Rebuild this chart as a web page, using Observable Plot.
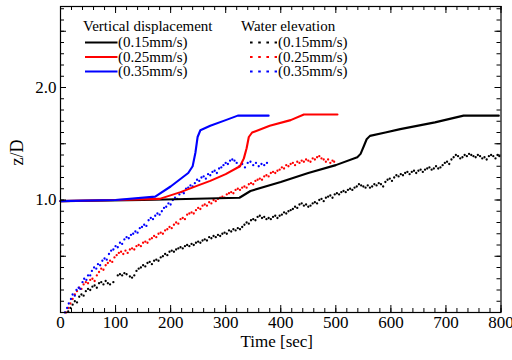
<!DOCTYPE html>
<html>
<head>
<meta charset="utf-8">
<script src="https://cdn.jsdelivr.net/npm/d3@7"></script>
<script src="https://cdn.jsdelivr.net/npm/@observablehq/plot@0.6"></script>
<style>
  html, body { margin: 0; padding: 0; background: white; overflow: hidden; }
  #wrap { position: relative; width: 512px; height: 360px; font-family: "Liberation Serif", "Times New Roman", serif; }
  #wrap svg, #wrap svg text { font-family: "Liberation Serif", "Times New Roman", serif !important; }
  #legend { position: absolute; left: 0; top: 0; pointer-events: none; }
</style>
</head>
<body>
<div id="wrap"></div>
<script>
// ---- Data ----
const xTicks = [0, 100, 200, 300, 400, 500, 600, 700, 800];
const yTickLabels = [1.0, 2.0];
const seriesNames = ["(0.15mm/s)", "(0.25mm/s)", "(0.35mm/s)"];
const colors = ["#000000", "#ff0000", "#0000ff"];

// Vertical displacement (solid lines): [time s, z/D]
const disp015 = [[0,0.99],[150,1.0],[325,1.02],[345,1.08],[400,1.16],[450,1.24],[500,1.31],[539,1.38],[545,1.41],[551,1.48],[556,1.54],[562,1.57],[590,1.60],[617,1.63],[680,1.69],[732,1.75],[796,1.75]];
const disp025 = [[0,0.99],[100,1.0],[180,1.01],[218,1.07],[250,1.13],[272,1.17],[300,1.23],[326,1.30],[333,1.37],[338,1.46],[342,1.56],[348,1.60],[380,1.66],[418,1.71],[442,1.76],[503,1.76]];
const disp035 = [[0,0.99],[100,1.0],[172,1.03],[200,1.12],[232,1.24],[240,1.30],[245,1.42],[249,1.56],[254,1.62],[272,1.66],[300,1.71],[322,1.75],[378,1.75]];

// Water elevation (dotted): [time s, z/D]
const water015 = [[14,0.01],[18,0.04],[22,0.07],[26,0.10],[30,0.09],[34,0.14],[38,0.16],[42,0.15],[46,0.19],[50,0.21],[54,0.20],[58,0.23],[62,0.24],[66,0.22],[70,0.26],[74,0.27],[78,0.25],[82,0.28],[86,0.26],[90,0.25],[96,0.27],[104,0.33],[108,0.34],[112,0.33],[116,0.35],[120,0.34],[126,0.32],[130,0.31],[134,0.33],[138,0.37],[142,0.39],[146,0.40],[150,0.42],[154,0.41],[158,0.44],[162,0.45],[166,0.43],[170,0.46],[174,0.47],[178,0.46],[182,0.49],[186,0.50],[190,0.52],[194,0.51],[198,0.54],[202,0.55],[206,0.54],[210,0.56],[214,0.57],[218,0.58],[222,0.57],[226,0.59],[230,0.60],[234,0.59],[238,0.61],[242,0.60],[246,0.62],[250,0.63],[254,0.62],[258,0.64],[262,0.65],[266,0.64],[270,0.67],[274,0.66],[278,0.68],[282,0.67],[286,0.69],[290,0.68],[294,0.70],[298,0.71],[302,0.70],[306,0.73],[310,0.72],[314,0.74],[318,0.73],[322,0.75],[326,0.74],[330,0.76],[334,0.78],[338,0.80],[342,0.79],[346,0.82],[350,0.83],[354,0.82],[358,0.85],[362,0.86],[366,0.84],[370,0.85],[374,0.83],[378,0.84],[382,0.83],[386,0.85],[390,0.86],[394,0.84],[398,0.86],[402,0.87],[406,0.89],[410,0.88],[414,0.90],[418,0.91],[422,0.92],[426,0.94],[430,0.93],[434,0.96],[438,0.97],[442,0.95],[446,0.96],[450,0.94],[454,0.95],[458,0.97],[462,0.98],[466,0.97],[470,1.00],[474,1.01],[478,0.99],[482,1.02],[486,1.03],[490,1.04],[494,1.02],[498,1.05],[502,1.06],[506,1.05],[510,1.07],[514,1.08],[518,1.07],[522,1.09],[526,1.10],[530,1.09],[534,1.11],[538,1.12],[542,1.14],[546,1.13],[550,1.12],[554,1.11],[558,1.13],[562,1.11],[566,1.12],[570,1.14],[574,1.13],[578,1.15],[582,1.14],[586,1.12],[590,1.16],[594,1.18],[598,1.19],[602,1.17],[606,1.20],[610,1.22],[614,1.21],[618,1.23],[622,1.22],[626,1.24],[630,1.25],[634,1.23],[638,1.25],[642,1.26],[646,1.24],[650,1.26],[654,1.27],[658,1.25],[662,1.27],[666,1.28],[670,1.29],[674,1.27],[678,1.28],[682,1.30],[686,1.28],[690,1.29],[694,1.31],[698,1.33],[702,1.34],[706,1.32],[710,1.36],[714,1.38],[718,1.40],[722,1.39],[726,1.37],[730,1.38],[734,1.40],[738,1.39],[742,1.41],[746,1.40],[750,1.39],[754,1.38],[758,1.40],[762,1.39],[766,1.37],[770,1.38],[774,1.36],[778,1.39],[782,1.40],[786,1.39],[790,1.37],[794,1.40],[797,1.39]];
const water025 = [[10,0.00],[14,0.04],[18,0.08],[22,0.12],[26,0.16],[30,0.19],[34,0.22],[38,0.21],[42,0.25],[46,0.27],[50,0.26],[54,0.29],[58,0.30],[62,0.28],[66,0.33],[70,0.36],[74,0.39],[78,0.38],[82,0.42],[86,0.44],[90,0.46],[94,0.45],[98,0.49],[102,0.51],[106,0.53],[110,0.54],[114,0.52],[118,0.55],[122,0.53],[126,0.56],[130,0.57],[134,0.56],[138,0.59],[142,0.60],[146,0.59],[150,0.62],[154,0.63],[158,0.62],[162,0.65],[166,0.66],[170,0.68],[174,0.67],[178,0.70],[182,0.71],[186,0.70],[190,0.73],[194,0.74],[198,0.76],[202,0.75],[206,0.78],[210,0.80],[214,0.79],[218,0.83],[222,0.84],[226,0.83],[230,0.87],[234,0.88],[238,0.89],[242,0.88],[246,0.91],[250,0.93],[254,0.92],[258,0.95],[262,0.96],[266,0.95],[270,0.98],[274,0.97],[278,1.00],[282,0.99],[286,1.01],[290,1.02],[294,1.03],[298,1.02],[302,1.05],[306,1.06],[310,1.07],[314,1.06],[318,1.09],[322,1.10],[326,1.09],[330,1.11],[334,1.12],[338,1.11],[342,1.14],[346,1.15],[350,1.14],[354,1.17],[358,1.18],[362,1.19],[366,1.18],[370,1.21],[374,1.22],[378,1.21],[382,1.24],[386,1.25],[390,1.24],[394,1.26],[398,1.27],[402,1.29],[406,1.28],[410,1.31],[414,1.30],[418,1.32],[422,1.33],[426,1.31],[430,1.34],[434,1.33],[438,1.35],[442,1.34],[446,1.36],[450,1.35],[454,1.34],[458,1.37],[462,1.36],[466,1.38],[470,1.39],[474,1.37],[478,1.36],[482,1.34],[486,1.36],[490,1.33],[494,1.35],[497,1.34]];
const water035 = [[8,0.00],[12,0.04],[15,0.08],[19,0.12],[22,0.16],[26,0.15],[29,0.20],[33,0.22],[36,0.21],[40,0.27],[43,0.30],[47,0.29],[50,0.33],[54,0.33],[57,0.37],[61,0.40],[65,0.39],[68,0.43],[72,0.42],[76,0.46],[80,0.48],[84,0.47],[88,0.52],[92,0.55],[96,0.56],[100,0.59],[104,0.58],[108,0.62],[112,0.61],[116,0.65],[120,0.67],[124,0.66],[128,0.69],[132,0.70],[136,0.72],[140,0.71],[144,0.75],[148,0.76],[152,0.78],[156,0.77],[160,0.82],[164,0.84],[168,0.83],[172,0.86],[176,0.88],[180,0.87],[184,0.90],[188,0.93],[192,0.94],[196,0.97],[200,0.96],[204,1.00],[208,1.02],[212,1.01],[216,1.05],[220,1.07],[224,1.06],[228,1.10],[232,1.11],[236,1.13],[240,1.12],[244,1.15],[248,1.18],[252,1.17],[256,1.20],[260,1.21],[264,1.19],[268,1.23],[272,1.22],[276,1.25],[280,1.26],[284,1.24],[288,1.28],[292,1.29],[296,1.31],[300,1.33],[304,1.32],[308,1.35],[312,1.36],[316,1.35],[320,1.33],[325,1.30],[330,1.32],[335,1.29],[340,1.33],[345,1.34],[350,1.31],[355,1.33],[360,1.30],[365,1.32],[370,1.31],[375,1.33]];

// ---- Layout ----
const W = 512, H = 360;
const mT = 6, mB = 48, mL = 60, mR = 11.5;
const innerW = W - mL - mR, innerH = H - mT - mB;
const font = '"Liberation Serif", "Times New Roman", serif';

const minorX = d3.range(0, 801, 20);
const minorY = d3.range(0, 2.71, 0.1);
const majorY = [0, 0.5, 1, 1.5, 2, 2.5];

const P = ([t, z]) => ({t, z});
const disp = [disp015, disp025, disp035].map(a => a.map(P));
const water = [water015, water025, water035].map(a => a.map(P));

const marks = [];
// water elevation dots
water.forEach((d, i) => marks.push(Plot.dot(d, {x: "t", y: "z", r: 1.15, fill: colors[i], stroke: "none"})));
// displacement lines
disp.forEach((d, i) => marks.push(Plot.line(d, {x: "t", y: "z", stroke: colors[i], strokeWidth: 2.1, curve: "linear"})));

// inward ticks on all four sides
marks.push(
  Plot.tickX(minorX, {x: d => d, insetTop: innerH - 4, stroke: "black"}),
  Plot.tickX(xTicks, {x: d => d, insetTop: innerH - 7, stroke: "black"}),
  Plot.tickX(minorX, {x: d => d, insetBottom: innerH - 4, stroke: "black"}),
  Plot.tickX(xTicks, {x: d => d, insetBottom: innerH - 7, stroke: "black"}),
  Plot.tickY(minorY, {y: d => d, insetRight: innerW - 4, stroke: "black"}),
  Plot.tickY(majorY, {y: d => d, insetRight: innerW - 6, stroke: "black"}),
  Plot.tickY(minorY, {y: d => d, insetLeft: innerW - 4, stroke: "black"}),
  Plot.tickY(majorY, {y: d => d, insetLeft: innerW - 6, stroke: "black"}),
  Plot.frame({stroke: "black", strokeWidth: 1.2}),
  Plot.axisX(xTicks, {anchor: "bottom", label: null, tickSize: 0, tickPadding: 3, fontSize: 17, fontFamily: font, tickFormat: d => String(d)}),
  Plot.axisY(yTickLabels, {anchor: "left", label: null, tickSize: 0, tickPadding: 4, fontSize: 17, fontFamily: font, tickFormat: d => d.toFixed(1)}),
  Plot.text(["Time [sec]"], {frameAnchor: "bottom", lineAnchor: "middle", dy: 29, dx: -4, fontSize: 17, fontFamily: font, fill: "black"}),
  Plot.text(["z/D"], {frameAnchor: "left", dx: -43, dy: 6, rotate: -90, fontSize: 18, fontFamily: font, fill: "black"})
);

const chart = Plot.plot({
  width: W, height: H,
  marginTop: mT, marginBottom: mB, marginLeft: mL, marginRight: mR,
  x: {domain: [0, 800], axis: null},
  y: {domain: [0, 2.72], axis: null},
  style: {fontFamily: font, fontSize: "17px", background: "white", color: "black", overflow: "visible"},
  marks
});
const wrap = document.getElementById("wrap");
wrap.appendChild(chart);

// ---- Legend (overlay inside the plot frame) ----
const ns = "http://www.w3.org/2000/svg";
const lg = document.createElementNS(ns, "svg");
lg.setAttribute("id", "legend");
lg.setAttribute("width", W);
lg.setAttribute("height", H);
function el(tag, attrs, text) {
  const e = document.createElementNS(ns, tag);
  for (const k in attrs) e.setAttribute(k, attrs[k]);
  if (text != null) e.textContent = text;
  lg.appendChild(e);
  return e;
}
const tStyle = {"font-family": font, "font-size": 15, fill: "black"};
el("text", {...tStyle, x: 83, y: 31}, "Vertical displacement");
el("text", {...tStyle, x: 241, y: 31}, "Water elevation");
seriesNames.forEach((name, i) => {
  const cy = 42.5 + i * 14.5;
  el("line", {x1: 85, x2: 117.5, y1: cy, y2: cy, stroke: colors[i], "stroke-width": 2.2});
  el("text", {...tStyle, x: 118, y: cy + 4.8}, name);
  el("line", {x1: 250, x2: 277, y1: cy, y2: cy, stroke: colors[i], "stroke-width": 2.2, "stroke-dasharray": "2.6,5.6"});
  el("text", {...tStyle, x: 278, y: cy + 4.8}, name);
});
wrap.appendChild(lg);
</script>
</body>
</html>
